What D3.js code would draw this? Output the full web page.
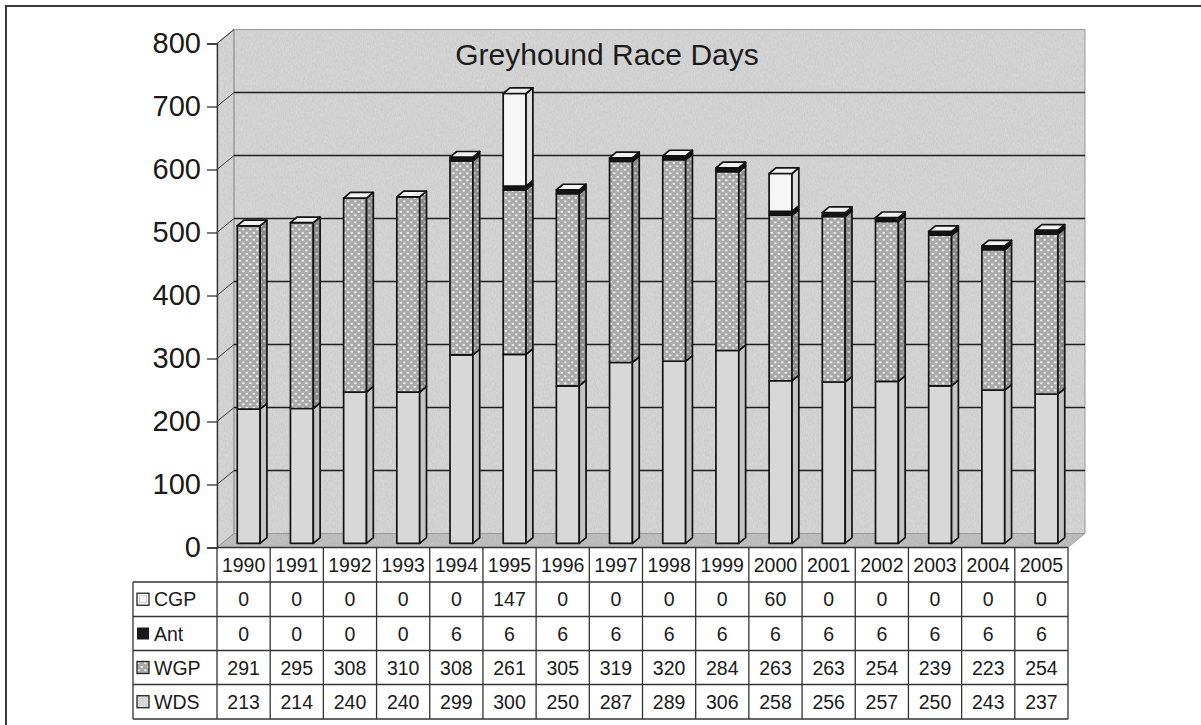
<!DOCTYPE html>
<html><head><meta charset="utf-8">
<script src="https://cdn.jsdelivr.net/npm/d3@7"></script>
<style>body{margin:0;background:#fff}svg{display:block;font-family:"Liberation Sans",Arial,sans-serif}</style>
</head><body><svg id="c" width="1201" height="725"></svg>
<script>
const title = "Greyhound Race Days";
const years = ["1990","1991","1992","1993","1994","1995","1996","1997","1998","1999","2000","2001","2002","2003","2004","2005"];
const CGP = [0,0,0,0,0,147,0,0,0,0,60,0,0,0,0,0];
const Ant = [0,0,0,0,6,6,6,6,6,6,6,6,6,6,6,6];
const WGP = [291,295,308,310,308,261,305,319,320,284,263,263,254,239,223,254];
const WDS = [213,214,240,240,299,300,250,287,289,306,258,256,257,250,243,237];
const yTicks = [0,100,200,300,400,500,600,700,800];
const tableRows = [{name:"CGP",values:CGP},{name:"Ant",values:Ant},{name:"WGP",values:WGP},{name:"WDS",values:WDS}];
const stackOrder = [{name:"WDS",values:WDS},{name:"WGP",values:WGP},{name:"Ant",values:Ant},{name:"CGP",values:CGP}];

const svg = d3.select("#c");
const defs = svg.append("defs");
function dotPattern(id, bg, dot){
  const p = defs.append("pattern").attr("id",id).attr("patternUnits","userSpaceOnUse").attr("width",7).attr("height",7);
  p.append("rect").attr("width",7).attr("height",7).attr("fill",bg);
  p.append("ellipse").attr("cx",1.8).attr("cy",1.8).attr("rx",1.4).attr("ry",1.1).attr("fill",dot);
  p.append("ellipse").attr("cx",5.3).attr("cy",5.3).attr("rx",1.4).attr("ry",1.1).attr("fill",dot);
}
dotPattern("wgpF","#a9a9a9","#ececec");
dotPattern("wgpS","#8c8c8c","#c6c6c6");
const fineP = defs.append("pattern").attr("id","wdsKey").attr("patternUnits","userSpaceOnUse").attr("width",3).attr("height",3);
fineP.append("rect").attr("width",3).attr("height",3).attr("fill","#d4d4d4");
fineP.append("rect").attr("width",1).attr("height",1).attr("fill","#f4f4f4");
// paper-like noise texture for the walls
const flt = defs.append("filter").attr("id","grain").attr("x",0).attr("y",0).attr("width","100%").attr("height","100%");
flt.append("feTurbulence").attr("type","fractalNoise").attr("baseFrequency","0.9 0.35").attr("numOctaves",2).attr("seed",3).attr("result","n");
flt.append("feColorMatrix").attr("in","n").attr("type","matrix")
  .attr("values","0 0 0 0 0  0 0 0 0 0  0 0 0 0 0  0 0 0 0.18 0").attr("result","na");
flt.append("feComposite").attr("in","na").attr("in2","SourceGraphic").attr("operator","in").attr("result","nc");
flt.append("feMerge").call(m => { m.append("feMergeNode").attr("in","SourceGraphic"); m.append("feMergeNode").attr("in","nc"); });

const X0 = 217, X1 = 1068, DX = 17, DY = -14;
const x = d3.scaleBand().domain(years).range([X0, X1]).padding(0);
const y = d3.scaleLinear().domain([0,800]).range([547.5, 43.5]);
const P = (xx, v, f) => [xx + DX*f, y(v) + DY*f];
const poly = pts => "M" + pts.map(p => p.join(",")).join("L") + "Z";

// outer border
svg.append("path").attr("d","M6,725V6H1201").attr("fill","none").attr("stroke","#3a3a3a").attr("stroke-width",2);

// walls
const wallFill = "#dadada";
const walls = svg.append("g");
walls.append("path").attr("d", poly([P(X0,0,0),P(X0,0,1),P(X0,800,1),P(X0,800,0)])).attr("fill",wallFill).attr("filter","url(#grain)");
walls.append("path").attr("d", poly([P(X0,0,1),P(X1,0,1),P(X1,800,1),P(X0,800,1)])).attr("fill",wallFill).attr("filter","url(#grain)");
walls.append("path").attr("d", poly([P(X0,0,0),P(X1,0,0),P(X1,0,1),P(X0,0,1)])).attr("fill","#c4c4c4").attr("filter","url(#grain)");
walls.append("path").attr("d", poly([P(X0,0,0),P(X0,0,1),P(X0,800,1),P(X0,800,0)])).attr("fill","none").attr("stroke","#8a8a8a").attr("stroke-width",0.8);
walls.append("path").attr("d", poly([P(X0,0,1),P(X1,0,1),P(X1,800,1),P(X0,800,1)])).attr("fill","none").attr("stroke","#999").attr("stroke-width",1);
walls.append("path").attr("d", poly([P(X0,0,0),P(X1,0,0),P(X1,0,1),P(X0,0,1)])).attr("fill","none").attr("stroke","#999").attr("stroke-width",0.8);

// gridlines
const g = svg.append("g");
yTicks.filter(v => v > 0 && v < 800).forEach(v => {
  g.append("path").attr("d","M"+P(X0,v,1).join(",")+"L"+P(X1,v,1).join(",")).attr("stroke","#1e1e1e").attr("stroke-width",1.3).attr("fill","none");
});
yTicks.filter(v => v > 0).forEach(v => {
  g.append("path").attr("d","M"+P(X0,v,0).join(",")+"L"+P(X0,v,1).join(",")).attr("stroke","#333").attr("stroke-width",1).attr("fill","none");
});

// axis
const ax = svg.append("g").attr("transform","translate("+X0+",0)")
  .call(d3.axisLeft(y).tickValues(yTicks).tickSize(10).tickPadding(6).tickFormat(d3.format("d")));
ax.select(".domain").attr("stroke","#333").attr("stroke-width",1.3);
ax.selectAll(".tick line").attr("stroke","#333").attr("stroke-width",1.3);
ax.selectAll(".tick text").attr("font-size",29).attr("fill","#1a1a1a").attr("font-family","Liberation Sans, Arial, sans-serif");

// bars
const bw = x.bandwidth()*0.43;
const f0 = 0.3, f1 = 0.7;
const styles = {
  WDS:{front:"#d8d8d8", side:"#c4c4c4"},
  WGP:{front:"url(#wgpF)", side:"url(#wgpS)"},
  Ant:{front:"#151515", side:"#151515"},
  CGP:{front:"#f6f6f6", side:"#dedede"}
};
const bars = svg.append("g");
years.forEach((yr, i) => {
  const xa = x(yr) + (x.bandwidth()-bw)/2, xb = xa + bw;
  let base = 0;
  const segs = [];
  stackOrder.forEach(s => {
    const v = s.values[i];
    if (v > 0) { segs.push({name:s.name, b:base, t:base+v}); base += v; }
  });
  const gb = bars.append("g");
  segs.forEach(sg => {
    const st = styles[sg.name];
    gb.append("path").attr("d", poly([P(xa,sg.t,f0),P(xb,sg.t,f0),P(xb,sg.b,f0),P(xa,sg.b,f0)]))
      .attr("fill", st.front).attr("stroke","#111").attr("stroke-width",1.7).attr("stroke-linejoin","round");
    gb.append("path").attr("d", poly([P(xb,sg.t,f0),P(xb,sg.t,f1),P(xb,sg.b,f1),P(xb,sg.b,f0)]))
      .attr("fill", st.side).attr("stroke","#111").attr("stroke-width",1.7).attr("stroke-linejoin","round");
  });
  const top = base;
  gb.append("path").attr("d", poly([P(xa,top,f0),P(xb,top,f0),P(xb,top,f1),P(xa,top,f1)]))
    .attr("fill","#f2f2f2").attr("stroke","#111").attr("stroke-width",1.7).attr("stroke-linejoin","round");
});

// title
svg.append("text").attr("x",607).attr("y",65).attr("text-anchor","middle").attr("font-size",30).attr("fill","#1a1a1a").text(title);

// table
const tbl = svg.append("g");
const rowTop = 547.5, rowH = [34.5,34.5,34,34,34.5];
const rowY = [rowTop]; rowH.forEach((h,k) => rowY.push(rowY[k]+h));
const LX = 133;
const line = (x1,y1,x2,y2) => tbl.append("line").attr("x1",x1).attr("y1",y1).attr("x2",x2).attr("y2",y2).attr("stroke","#333").attr("stroke-width",1.3);
line(X0, rowY[0], X1, rowY[0]);
for (let k = 1; k < rowY.length; k++) line(LX, rowY[k], X1, rowY[k]);
line(LX, rowY[1], LX, rowY[5]);
years.forEach(yr => line(x(yr), rowY[0], x(yr), rowY[5]));
line(X1, rowY[0], X1, rowY[5]);
years.forEach(yr => tbl.append("text").attr("x", x(yr)+x.bandwidth()/2).attr("y", rowY[0]+rowH[0]/2+7)
  .attr("text-anchor","middle").attr("font-size",19.5).attr("fill","#1a1a1a").text(yr));
tableRows.forEach((r, k) => {
  const cy = rowY[k+1] + rowH[k+1]/2;
  r.values.forEach((v, i) => tbl.append("text").attr("x", x(years[i])+x.bandwidth()/2).attr("y", cy+7)
    .attr("text-anchor","middle").attr("font-size",19.5).attr("fill","#1a1a1a").text(v));
  tbl.append("text").attr("x", 154).attr("y", cy+7).attr("font-size",19.5).attr("fill","#1a1a1a").text(r.name);
  const kx = 137, ky = cy - 6, ks = 12;
  if (r.name === "CGP") {
    tbl.append("rect").attr("x",kx).attr("y",ky).attr("width",ks).attr("height",ks).attr("fill","#fff").attr("stroke","#222").attr("stroke-width",1.3);
    tbl.append("rect").attr("x",kx+2.5).attr("y",ky+2.5).attr("width",ks-5).attr("height",ks-5).attr("fill","#fafafa").attr("stroke","#bbb").attr("stroke-width",0.8);
  } else if (r.name === "Ant") {
    tbl.append("rect").attr("x",kx).attr("y",ky).attr("width",ks).attr("height",ks).attr("fill","#1a1a1a");
  } else if (r.name === "WGP") {
    tbl.append("rect").attr("x",kx).attr("y",ky).attr("width",ks).attr("height",ks).attr("fill","url(#wgpF)").attr("stroke","#222").attr("stroke-width",1.3);
  } else {
    tbl.append("rect").attr("x",kx).attr("y",ky).attr("width",ks).attr("height",ks).attr("fill","url(#wdsKey)").attr("stroke","#222").attr("stroke-width",1.3);
  }
});
</script></body></html>
